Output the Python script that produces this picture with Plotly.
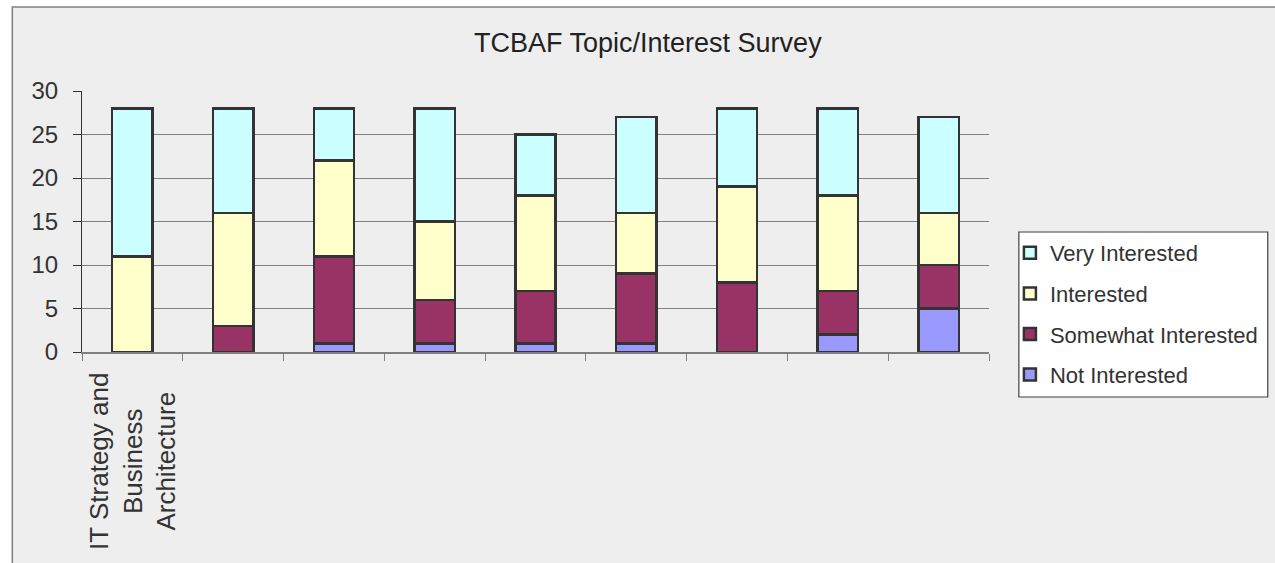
import plotly.graph_objects as go

categories = ["IT Strategy and<br>Business<br>Architecture", "", "", "", "", "", "", "", ""]
not_interested = [0, 0, 1, 1, 1, 1, 0, 2, 5]
somewhat_interested = [0, 3, 10, 5, 6, 8, 8, 5, 5]
interested = [11, 13, 11, 9, 11, 7, 11, 11, 6]
very_interested = [17, 12, 6, 13, 7, 11, 9, 10, 11]

series = [
    ("Not Interested", not_interested, "#9999FF", 4),
    ("Somewhat Interested", somewhat_interested, "#993366", 3),
    ("Interested", interested, "#FFFFCC", 2),
    ("Very Interested", very_interested, "#CCFFFF", 1),
]

W, H = 1275, 563
L, R, T, B = 82, 993, 91, 352
pw, ph = R - L, B - T

def px(x):
    return (x - L) / pw

def py(y):
    return (B - y) / ph

xs = list(range(len(categories)))
fig = go.Figure()
for name, vals, col, rank in series:
    fig.add_trace(go.Bar(
        x=xs, y=vals, name=name, legendgroup=name, legendrank=rank,
        marker=dict(color=col, line=dict(color="#333333", width=2.5)),
        width=0.4,
    ))

font_fam = "Liberation Sans, Arial, sans-serif"
annotations = [
    dict(text="TCBAF Topic/Interest Survey", xref="paper", yref="paper",
         x=px(650), y=py(43), xanchor="center", yanchor="middle",
         showarrow=False, font=dict(size=27, color="#222222")),
]
for i, lab in enumerate(categories):
    if lab:
        annotations.append(dict(
            text=lab, xref="x", yref="paper", x=xs[i], y=py(371),
            xanchor="center", yanchor="top", textangle=-90, align="center",
            showarrow=False, font=dict(size=26, color="#333333"),
        ))

fig.update_layout(
    width=W, height=H,
    barmode="stack",
    paper_bgcolor="#FFFFFF",
    plot_bgcolor="rgba(0,0,0,0)",
    margin=dict(l=L, r=W - R, t=T, b=H - B, pad=0),
    font=dict(family=font_fam, size=22, color="#333333"),
    showlegend=True,
    legend=dict(
        x=px(1014), xanchor="left", y=py(232), yanchor="top",
        bgcolor="rgba(0,0,0,0)", borderwidth=0,
        traceorder="grouped", tracegroupgap=9,
        font=dict(size=22, color="#333333"),
    ),
    shapes=[
        dict(type="rect", xref="paper", yref="paper", layer="below",
             x0=px(12), x1=px(1290), y0=py(580), y1=py(7),
             fillcolor="#EEEEEE", line=dict(color="#808080", width=1.5)),
        dict(type="rect", xref="paper", yref="paper", layer="below",
             x0=px(1023), x1=px(1273), y0=py(397), y1=py(232),
             fillcolor="#FFFFFF", line=dict(color="#404040", width=1.2)),
    ],
    annotations=annotations,
)

fig.update_yaxes(
    range=[0, 30], dtick=5, tick0=0,
    showgrid=True, gridcolor="#808080", gridwidth=1,
    showline=True, linecolor="#333333", linewidth=1,
    ticks="outside", ticklen=8, tickcolor="#333333",
    ticklabelstandoff=10,
    tickfont=dict(size=24, color="#333333"),
    zeroline=False,
)
fig.update_xaxes(
    range=[-0.5, len(categories) - 0.5],
    tickvals=xs, showticklabels=False,
    ticks="", showgrid=False, zeroline=False,
    showline=True, linecolor="#808080", linewidth=1.5,
    minor=dict(ticks="outside", ticklen=7, tick0=0.5, dtick=1, tickcolor="#808080", showgrid=False),
)

fig.write_html("out.html", config={"displayModeBar": False},
               post_script="document.body.style.margin='0';")
